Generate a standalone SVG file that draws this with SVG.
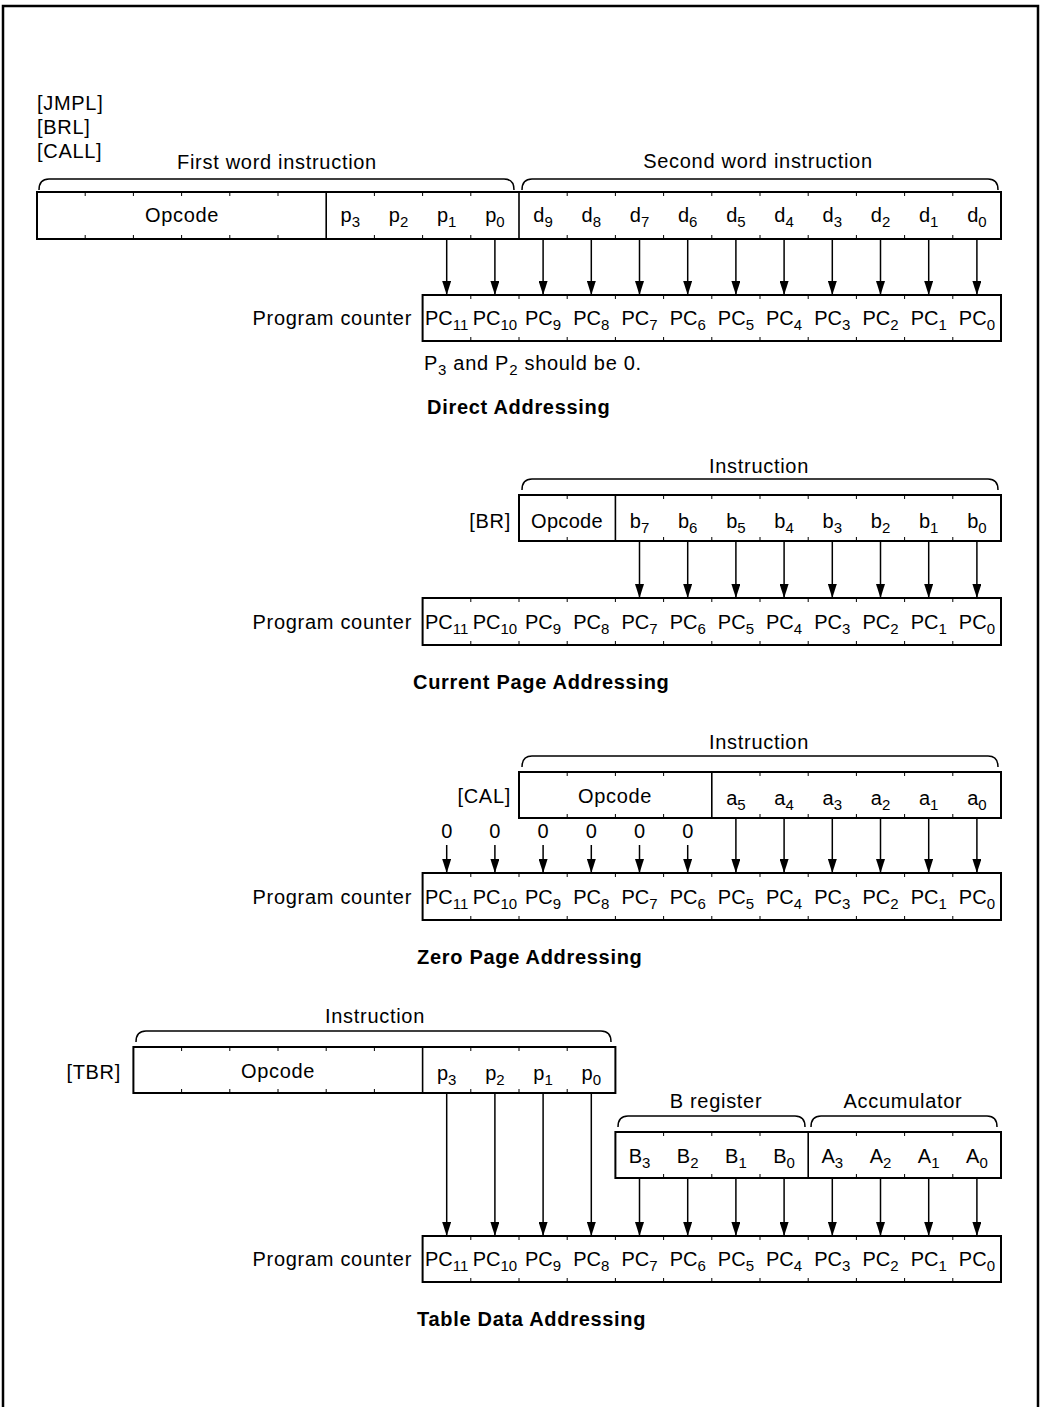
<svg xmlns="http://www.w3.org/2000/svg" width="1041" height="1407" viewBox="0 0 1041 1407">
<style>
text{font-family:"Liberation Sans",Arial,sans-serif;font-size:20px;letter-spacing:0.7px;fill:#000}
.bd{font-weight:bold}
.c{text-anchor:middle;letter-spacing:0}
.r{text-anchor:end}
.s{font-size:15px}
.box{fill:#fff;stroke:#000;stroke-width:2}
.div{stroke:#000;stroke-width:1.6}
.tick{fill:none;stroke:#000;stroke-width:1}
.ar{stroke:#000;stroke-width:1.5;marker-end:url(#ah)}
.br{fill:none;stroke:#000;stroke-width:1.5}
</style>
<defs>
<marker id="ah" markerWidth="14" markerHeight="9" refX="14" refY="4.5" orient="auto" markerUnits="userSpaceOnUse"><path d="M0,0 L14,4.5 L0,9 z" fill="#000"/></marker>
</defs>
<rect width="1041" height="1407" fill="#fff"/>
<path d="M3,1410 V6 H1038 V1410" fill="none" stroke="#000" stroke-width="2.5"/>

<!-- Section 1: Direct Addressing -->
<g id="direct-labels">
<text x="37" y="110">[JMPL]</text>
<text x="37" y="134">[BRL]</text>
<text x="37" y="158">[CALL]</text>
<text class="c" x="277" y="169" style="letter-spacing:0.7px">First word instruction</text>
<text class="c" x="758" y="168" style="letter-spacing:0.7px">Second word instruction</text>
<path class="br" d="M39,190 Q39,179 49,179 H504 Q514,179 514,190"/>
<path class="br" d="M522,190 Q522,179 532,179 H988 Q998,179 998,190"/>
</g>
<g id="direct-instruction">
<rect class="box" x="37" y="192" width="964" height="47"/>
<path class="div" d="M326.2,192V239M519,192V239"/>
<path class="tick" d="M952.8,192v4M952.8,239v-4M904.6,192v4M904.6,239v-4M856.4,192v4M856.4,239v-4M808.2,192v4M808.2,239v-4M760,192v4M760,239v-4M711.8,192v4M711.8,239v-4M663.6,192v4M663.6,239v-4M615.4,192v4M615.4,239v-4M567.2,192v4M567.2,239v-4M470.8,192v4M470.8,239v-4M422.6,192v4M422.6,239v-4M374.4,192v4M374.4,239v-4M278,192v4M278,239v-4M229.8,192v4M229.8,239v-4M181.6,192v4M181.6,239v-4M133.4,192v4M133.4,239v-4M85.2,192v4M85.2,239v-4"/>
<text class="c" x="182" y="222" style="letter-spacing:0.7px">Opcode</text>
<text class="c" x="350.3" y="222">p<tspan class="s" dy="5">3</tspan></text>
<text class="c" x="398.5" y="222">p<tspan class="s" dy="5">2</tspan></text>
<text class="c" x="446.7" y="222">p<tspan class="s" dy="5">1</tspan></text>
<text class="c" x="494.9" y="222">p<tspan class="s" dy="5">0</tspan></text>
<text class="c" x="543.1" y="222">d<tspan class="s" dy="5">9</tspan></text>
<text class="c" x="591.3" y="222">d<tspan class="s" dy="5">8</tspan></text>
<text class="c" x="639.5" y="222">d<tspan class="s" dy="5">7</tspan></text>
<text class="c" x="687.7" y="222">d<tspan class="s" dy="5">6</tspan></text>
<text class="c" x="735.9" y="222">d<tspan class="s" dy="5">5</tspan></text>
<text class="c" x="784.1" y="222">d<tspan class="s" dy="5">4</tspan></text>
<text class="c" x="832.3" y="222">d<tspan class="s" dy="5">3</tspan></text>
<text class="c" x="880.5" y="222">d<tspan class="s" dy="5">2</tspan></text>
<text class="c" x="928.7" y="222">d<tspan class="s" dy="5">1</tspan></text>
<text class="c" x="976.9" y="222">d<tspan class="s" dy="5">0</tspan></text>
</g>
<g id="direct-pc">
<text class="r" x="412" y="325">Program counter</text>
<rect class="box" x="422.6" y="295" width="578.4" height="46"/>
<path class="tick" d="M952.8,295v4M952.8,341v-4M904.6,295v4M904.6,341v-4M856.4,295v4M856.4,341v-4M808.2,295v4M808.2,341v-4M760,295v4M760,341v-4M711.8,295v4M711.8,341v-4M663.6,295v4M663.6,341v-4M615.4,295v4M615.4,341v-4M567.2,295v4M567.2,341v-4M519,295v4M519,341v-4M470.8,295v4M470.8,341v-4"/>
<text class="c" x="446.7" y="325">PC<tspan class="s" dy="5">11</tspan></text>
<text class="c" x="494.9" y="325">PC<tspan class="s" dy="5">10</tspan></text>
<text class="c" x="543.1" y="325">PC<tspan class="s" dy="5">9</tspan></text>
<text class="c" x="591.3" y="325">PC<tspan class="s" dy="5">8</tspan></text>
<text class="c" x="639.5" y="325">PC<tspan class="s" dy="5">7</tspan></text>
<text class="c" x="687.7" y="325">PC<tspan class="s" dy="5">6</tspan></text>
<text class="c" x="735.9" y="325">PC<tspan class="s" dy="5">5</tspan></text>
<text class="c" x="784.1" y="325">PC<tspan class="s" dy="5">4</tspan></text>
<text class="c" x="832.3" y="325">PC<tspan class="s" dy="5">3</tspan></text>
<text class="c" x="880.5" y="325">PC<tspan class="s" dy="5">2</tspan></text>
<text class="c" x="928.7" y="325">PC<tspan class="s" dy="5">1</tspan></text>
<text class="c" x="976.9" y="325">PC<tspan class="s" dy="5">0</tspan></text>
</g>
<g id="direct-notes">
<text x="424" y="370">P<tspan class="s" dy="5">3</tspan><tspan dy="-5"> and P</tspan><tspan class="s" dy="5">2</tspan><tspan dy="-5"> should be 0.</tspan></text>
<text class="bd" x="427" y="414">Direct Addressing</text>
</g>

<!-- Section 2: Current Page Addressing -->
<g id="current-instruction">
<text class="c" x="759" y="473" style="letter-spacing:0.7px">Instruction</text>
<path class="br" d="M522,490 Q522,479 532,479 H988 Q998,479 998,490"/>
<text class="r" x="511" y="528">[BR]</text>
<rect class="box" x="519" y="495" width="482" height="46"/>
<path class="div" d="M615.4,495V541"/>
<path class="tick" d="M952.8,495v4M952.8,541v-4M904.6,495v4M904.6,541v-4M856.4,495v4M856.4,541v-4M808.2,495v4M808.2,541v-4M760,495v4M760,541v-4M711.8,495v4M711.8,541v-4M663.6,495v4M663.6,541v-4M567.2,495v4M567.2,541v-4"/>
<text class="c" x="567" y="528" style="letter-spacing:0.3px">Opcode</text>
<text class="c" x="639.5" y="528">b<tspan class="s" dy="5">7</tspan></text>
<text class="c" x="687.7" y="528">b<tspan class="s" dy="5">6</tspan></text>
<text class="c" x="735.9" y="528">b<tspan class="s" dy="5">5</tspan></text>
<text class="c" x="784.1" y="528">b<tspan class="s" dy="5">4</tspan></text>
<text class="c" x="832.3" y="528">b<tspan class="s" dy="5">3</tspan></text>
<text class="c" x="880.5" y="528">b<tspan class="s" dy="5">2</tspan></text>
<text class="c" x="928.7" y="528">b<tspan class="s" dy="5">1</tspan></text>
<text class="c" x="976.9" y="528">b<tspan class="s" dy="5">0</tspan></text>
</g>
<g id="current-pc">
<text class="r" x="412" y="629">Program counter</text>
<rect class="box" x="422.6" y="598" width="578.4" height="47"/>
<path class="tick" d="M952.8,598v4M952.8,645v-4M904.6,598v4M904.6,645v-4M856.4,598v4M856.4,645v-4M808.2,598v4M808.2,645v-4M760,598v4M760,645v-4M711.8,598v4M711.8,645v-4M663.6,598v4M663.6,645v-4M615.4,598v4M615.4,645v-4M567.2,598v4M567.2,645v-4M519,598v4M519,645v-4M470.8,598v4M470.8,645v-4"/>
<text class="c" x="446.7" y="629">PC<tspan class="s" dy="5">11</tspan></text>
<text class="c" x="494.9" y="629">PC<tspan class="s" dy="5">10</tspan></text>
<text class="c" x="543.1" y="629">PC<tspan class="s" dy="5">9</tspan></text>
<text class="c" x="591.3" y="629">PC<tspan class="s" dy="5">8</tspan></text>
<text class="c" x="639.5" y="629">PC<tspan class="s" dy="5">7</tspan></text>
<text class="c" x="687.7" y="629">PC<tspan class="s" dy="5">6</tspan></text>
<text class="c" x="735.9" y="629">PC<tspan class="s" dy="5">5</tspan></text>
<text class="c" x="784.1" y="629">PC<tspan class="s" dy="5">4</tspan></text>
<text class="c" x="832.3" y="629">PC<tspan class="s" dy="5">3</tspan></text>
<text class="c" x="880.5" y="629">PC<tspan class="s" dy="5">2</tspan></text>
<text class="c" x="928.7" y="629">PC<tspan class="s" dy="5">1</tspan></text>
<text class="c" x="976.9" y="629">PC<tspan class="s" dy="5">0</tspan></text>
</g>
<g id="current-title"><text class="bd" x="413" y="689">Current Page Addressing</text></g>

<!-- Section 3: Zero Page Addressing -->
<g id="zero-instruction">
<text class="c" x="759" y="749" style="letter-spacing:0.7px">Instruction</text>
<path class="br" d="M522,767 Q522,756 532,756 H988 Q998,756 998,767"/>
<text class="r" x="511" y="803">[CAL]</text>
<rect class="box" x="519" y="772" width="482" height="46"/>
<path class="div" d="M711.8,772V818"/>
<path class="tick" d="M952.8,772v4M952.8,818v-4M904.6,772v4M904.6,818v-4M856.4,772v4M856.4,818v-4M808.2,772v4M808.2,818v-4M760,772v4M760,818v-4M663.6,772v4M663.6,818v-4M615.4,772v4M615.4,818v-4M567.2,772v4M567.2,818v-4"/>
<text class="c" x="615" y="803" style="letter-spacing:0.7px">Opcode</text>
<text class="c" x="735.9" y="805">a<tspan class="s" dy="5">5</tspan></text>
<text class="c" x="784.1" y="805">a<tspan class="s" dy="5">4</tspan></text>
<text class="c" x="832.3" y="805">a<tspan class="s" dy="5">3</tspan></text>
<text class="c" x="880.5" y="805">a<tspan class="s" dy="5">2</tspan></text>
<text class="c" x="928.7" y="805">a<tspan class="s" dy="5">1</tspan></text>
<text class="c" x="976.9" y="805">a<tspan class="s" dy="5">0</tspan></text>
</g>
<g id="zero-constants">
<text class="c" x="446.7" y="838">0</text>
<text class="c" x="494.9" y="838">0</text>
<text class="c" x="543.1" y="838">0</text>
<text class="c" x="591.3" y="838">0</text>
<text class="c" x="639.5" y="838">0</text>
<text class="c" x="687.7" y="838">0</text>
</g>
<g id="zero-pc">
<text class="r" x="412" y="904">Program counter</text>
<rect class="box" x="422.6" y="873" width="578.4" height="47"/>
<path class="tick" d="M952.8,873v4M952.8,920v-4M904.6,873v4M904.6,920v-4M856.4,873v4M856.4,920v-4M808.2,873v4M808.2,920v-4M760,873v4M760,920v-4M711.8,873v4M711.8,920v-4M663.6,873v4M663.6,920v-4M615.4,873v4M615.4,920v-4M567.2,873v4M567.2,920v-4M519,873v4M519,920v-4M470.8,873v4M470.8,920v-4"/>
<text class="c" x="446.7" y="904">PC<tspan class="s" dy="5">11</tspan></text>
<text class="c" x="494.9" y="904">PC<tspan class="s" dy="5">10</tspan></text>
<text class="c" x="543.1" y="904">PC<tspan class="s" dy="5">9</tspan></text>
<text class="c" x="591.3" y="904">PC<tspan class="s" dy="5">8</tspan></text>
<text class="c" x="639.5" y="904">PC<tspan class="s" dy="5">7</tspan></text>
<text class="c" x="687.7" y="904">PC<tspan class="s" dy="5">6</tspan></text>
<text class="c" x="735.9" y="904">PC<tspan class="s" dy="5">5</tspan></text>
<text class="c" x="784.1" y="904">PC<tspan class="s" dy="5">4</tspan></text>
<text class="c" x="832.3" y="904">PC<tspan class="s" dy="5">3</tspan></text>
<text class="c" x="880.5" y="904">PC<tspan class="s" dy="5">2</tspan></text>
<text class="c" x="928.7" y="904">PC<tspan class="s" dy="5">1</tspan></text>
<text class="c" x="976.9" y="904">PC<tspan class="s" dy="5">0</tspan></text>
</g>
<g id="zero-title"><text class="bd" x="417" y="964">Zero Page Addressing</text></g>

<!-- Section 4: Table Data Addressing -->
<g id="table-instruction">
<text class="c" x="375" y="1023" style="letter-spacing:0.7px">Instruction</text>
<path class="br" d="M136,1042 Q136,1031 146,1031 H601 Q611,1031 611,1042"/>
<text class="r" x="121" y="1079">[TBR]</text>
<rect class="box" x="133.4" y="1047" width="482" height="46"/>
<path class="div" d="M422.6,1047V1093"/>
<path class="tick" d="M567.2,1047v4M567.2,1093v-4M519,1047v4M519,1093v-4M470.8,1047v4M470.8,1093v-4M374.4,1047v4M374.4,1093v-4M326.2,1047v4M326.2,1093v-4M278,1047v4M278,1093v-4M229.8,1047v4M229.8,1093v-4M181.6,1047v4M181.6,1093v-4"/>
<text class="c" x="278" y="1078" style="letter-spacing:0.7px">Opcode</text>
<text class="c" x="446.7" y="1080">p<tspan class="s" dy="5">3</tspan></text>
<text class="c" x="494.9" y="1080">p<tspan class="s" dy="5">2</tspan></text>
<text class="c" x="543.1" y="1080">p<tspan class="s" dy="5">1</tspan></text>
<text class="c" x="591.3" y="1080">p<tspan class="s" dy="5">0</tspan></text>
</g>
<g id="table-registers">
<text class="c" x="716" y="1108" style="letter-spacing:0.7px">B register</text>
<text class="c" x="903" y="1108" style="letter-spacing:0.7px">Accumulator</text>
<path class="br" d="M618,1127 Q618,1116 628,1116 H795 Q805,1116 805,1127"/>
<path class="br" d="M811,1127 Q811,1116 821,1116 H987 Q997,1116 997,1127"/>
<rect class="box" x="615.4" y="1132" width="385.6" height="46"/>
<path class="div" d="M808.2,1132V1178"/>
<path class="tick" d="M952.8,1132v4M952.8,1178v-4M904.6,1132v4M904.6,1178v-4M856.4,1132v4M856.4,1178v-4M760,1132v4M760,1178v-4M711.8,1132v4M711.8,1178v-4M663.6,1132v4M663.6,1178v-4"/>
<text class="c" x="639.5" y="1163">B<tspan class="s" dy="5">3</tspan></text>
<text class="c" x="687.7" y="1163">B<tspan class="s" dy="5">2</tspan></text>
<text class="c" x="735.9" y="1163">B<tspan class="s" dy="5">1</tspan></text>
<text class="c" x="784.1" y="1163">B<tspan class="s" dy="5">0</tspan></text>
<text class="c" x="832.3" y="1163">A<tspan class="s" dy="5">3</tspan></text>
<text class="c" x="880.5" y="1163">A<tspan class="s" dy="5">2</tspan></text>
<text class="c" x="928.7" y="1163">A<tspan class="s" dy="5">1</tspan></text>
<text class="c" x="976.9" y="1163">A<tspan class="s" dy="5">0</tspan></text>
</g>
<g id="table-pc">
<text class="r" x="412" y="1266">Program counter</text>
<rect class="box" x="422.6" y="1236" width="578.4" height="46"/>
<path class="tick" d="M952.8,1236v4M952.8,1282v-4M904.6,1236v4M904.6,1282v-4M856.4,1236v4M856.4,1282v-4M808.2,1236v4M808.2,1282v-4M760,1236v4M760,1282v-4M711.8,1236v4M711.8,1282v-4M663.6,1236v4M663.6,1282v-4M615.4,1236v4M615.4,1282v-4M567.2,1236v4M567.2,1282v-4M519,1236v4M519,1282v-4M470.8,1236v4M470.8,1282v-4"/>
<text class="c" x="446.7" y="1266">PC<tspan class="s" dy="5">11</tspan></text>
<text class="c" x="494.9" y="1266">PC<tspan class="s" dy="5">10</tspan></text>
<text class="c" x="543.1" y="1266">PC<tspan class="s" dy="5">9</tspan></text>
<text class="c" x="591.3" y="1266">PC<tspan class="s" dy="5">8</tspan></text>
<text class="c" x="639.5" y="1266">PC<tspan class="s" dy="5">7</tspan></text>
<text class="c" x="687.7" y="1266">PC<tspan class="s" dy="5">6</tspan></text>
<text class="c" x="735.9" y="1266">PC<tspan class="s" dy="5">5</tspan></text>
<text class="c" x="784.1" y="1266">PC<tspan class="s" dy="5">4</tspan></text>
<text class="c" x="832.3" y="1266">PC<tspan class="s" dy="5">3</tspan></text>
<text class="c" x="880.5" y="1266">PC<tspan class="s" dy="5">2</tspan></text>
<text class="c" x="928.7" y="1266">PC<tspan class="s" dy="5">1</tspan></text>
<text class="c" x="976.9" y="1266">PC<tspan class="s" dy="5">0</tspan></text>
</g>
<g id="table-title"><text class="bd" x="417" y="1326">Table Data Addressing</text></g>

<!-- Connectors -->
<g id="connectors">
<line class="ar" x1="446.7" y1="239" x2="446.7" y2="295"/>
<line class="ar" x1="494.9" y1="239" x2="494.9" y2="295"/>
<line class="ar" x1="543.1" y1="239" x2="543.1" y2="295"/>
<line class="ar" x1="591.3" y1="239" x2="591.3" y2="295"/>
<line class="ar" x1="639.5" y1="239" x2="639.5" y2="295"/>
<line class="ar" x1="687.7" y1="239" x2="687.7" y2="295"/>
<line class="ar" x1="735.9" y1="239" x2="735.9" y2="295"/>
<line class="ar" x1="784.1" y1="239" x2="784.1" y2="295"/>
<line class="ar" x1="832.3" y1="239" x2="832.3" y2="295"/>
<line class="ar" x1="880.5" y1="239" x2="880.5" y2="295"/>
<line class="ar" x1="928.7" y1="239" x2="928.7" y2="295"/>
<line class="ar" x1="976.9" y1="239" x2="976.9" y2="295"/>

<line class="ar" x1="639.5" y1="541" x2="639.5" y2="598"/>
<line class="ar" x1="687.7" y1="541" x2="687.7" y2="598"/>
<line class="ar" x1="735.9" y1="541" x2="735.9" y2="598"/>
<line class="ar" x1="784.1" y1="541" x2="784.1" y2="598"/>
<line class="ar" x1="832.3" y1="541" x2="832.3" y2="598"/>
<line class="ar" x1="880.5" y1="541" x2="880.5" y2="598"/>
<line class="ar" x1="928.7" y1="541" x2="928.7" y2="598"/>
<line class="ar" x1="976.9" y1="541" x2="976.9" y2="598"/>

<line class="ar" x1="446.7" y1="845" x2="446.7" y2="873"/>
<line class="ar" x1="494.9" y1="845" x2="494.9" y2="873"/>
<line class="ar" x1="543.1" y1="845" x2="543.1" y2="873"/>
<line class="ar" x1="591.3" y1="845" x2="591.3" y2="873"/>
<line class="ar" x1="639.5" y1="845" x2="639.5" y2="873"/>
<line class="ar" x1="687.7" y1="845" x2="687.7" y2="873"/>
<line class="ar" x1="735.9" y1="818" x2="735.9" y2="873"/>
<line class="ar" x1="784.1" y1="818" x2="784.1" y2="873"/>
<line class="ar" x1="832.3" y1="818" x2="832.3" y2="873"/>
<line class="ar" x1="880.5" y1="818" x2="880.5" y2="873"/>
<line class="ar" x1="928.7" y1="818" x2="928.7" y2="873"/>
<line class="ar" x1="976.9" y1="818" x2="976.9" y2="873"/>

<line class="ar" x1="446.7" y1="1093" x2="446.7" y2="1236"/>
<line class="ar" x1="494.9" y1="1093" x2="494.9" y2="1236"/>
<line class="ar" x1="543.1" y1="1093" x2="543.1" y2="1236"/>
<line class="ar" x1="591.3" y1="1093" x2="591.3" y2="1236"/>
<line class="ar" x1="639.5" y1="1178" x2="639.5" y2="1236"/>
<line class="ar" x1="687.7" y1="1178" x2="687.7" y2="1236"/>
<line class="ar" x1="735.9" y1="1178" x2="735.9" y2="1236"/>
<line class="ar" x1="784.1" y1="1178" x2="784.1" y2="1236"/>
<line class="ar" x1="832.3" y1="1178" x2="832.3" y2="1236"/>
<line class="ar" x1="880.5" y1="1178" x2="880.5" y2="1236"/>
<line class="ar" x1="928.7" y1="1178" x2="928.7" y2="1236"/>
<line class="ar" x1="976.9" y1="1178" x2="976.9" y2="1236"/>
</g>
</svg>
